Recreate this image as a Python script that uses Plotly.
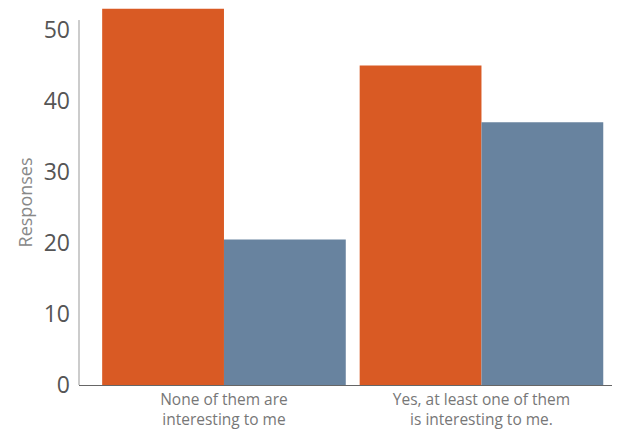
import plotly.graph_objects as go

categories = ["None of them are<br>interesting to me", "Yes, at least one of them<br>is interesting to me."]
series_orange = [53, 45]
series_blue = [20.5, 37]
y_ticks = [0, 10, 20, 30, 40, 50]
y_title = "Responses"

ORANGE = "#D95A24"
BLUE = "#68839F"
FONT = "Open Sans, sans-serif"

fig = go.Figure()
fig.add_bar(x=categories, y=series_orange, marker_color=ORANGE, marker_line_width=0, showlegend=False)
fig.add_bar(x=categories, y=series_blue, marker_color=BLUE, marker_line_width=0, showlegend=False)

fig.update_layout(
    width=612, height=423,
    margin=dict(l=71, r=0, t=0, b=46, autoexpand=False),
    barmode="group", bargap=0.054, bargroupgap=0,
    plot_bgcolor="white", paper_bgcolor="white",
    font=dict(family=FONT),
)
fig.update_xaxes(
    range=[-0.563, 1.538], showline=True, linecolor="#666", linewidth=1,
    showgrid=False, ticks="", tickfont=dict(size=15.5, color="#777", family=FONT),
    ticklabelstandoff=0, automargin=False,
)
fig.update_yaxes(
    range=[0, 53.1], showline=False, showgrid=False, zeroline=False,
    tickvals=y_ticks, ticks="", tickfont=dict(size=23, color="#555", family=FONT),
    ticklabelstandoff=8, automargin=False,
)
# y axis line (stops just above the top tick)
fig.add_shape(type="line", xref="paper", yref="y", x0=0, x1=0, y0=0, y1=51.4,
              line=dict(color="#999", width=1))
fig.add_annotation(text=y_title, xref="paper", yref="y", x=-0.1, y=25.7,
                   xanchor="center", yanchor="middle", textangle=-90, showarrow=False,
                   font=dict(size=18, color="#888", family=FONT))

fig.write_html("out.html")
